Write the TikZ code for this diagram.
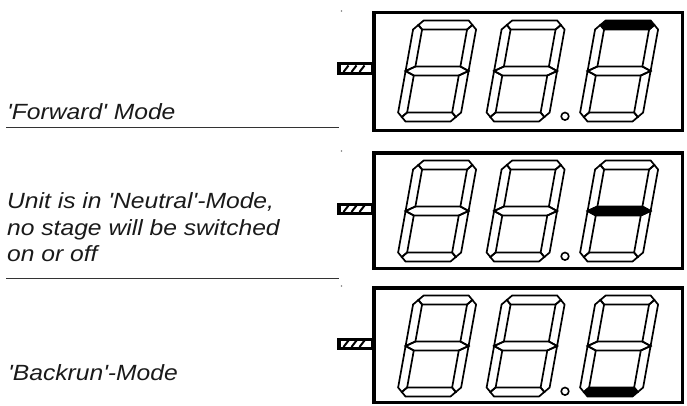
\documentclass[tikz,border=0pt]{standalone}
\usepackage{fontspec}
\newfontfamily\labelfont[FakeStretch=1.12]{Liberation Sans}
\definecolor{ink}{HTML}{1A1A1A}
\definecolor{rulegray}{HTML}{333333}

\tikzset{
  boxline/.style={line width=3.5pt, draw=black},
  seg/.style={line width=1.7pt, draw=black, line join=miter},
  lit top/.style={}, lit mid/.style={}, lit bot/.style={},
  label/.style={anchor=base west, inner sep=0pt, text=ink,
    font=\labelfont\itshape\fontsize{22}{26.7}\selectfont},
  sepline/.style={line width=1.2pt, draw=rulegray},
}

% one slanted seven-segment digit; #1,#2 = lower left corner, #3 = lit segment style
\newcommand\segdigit[3]{%
  \begin{scope}[shift={(#1,#2)}, xslant=0.18, #3]
    \draw[seg, lit top] (4.5,96.5) -- (9,101) -- (54,101) -- (58.5,96.5) -- (54,92) -- (9,92) -- cycle;
    \draw[seg, lit mid] (0,50.5) -- (9,55) -- (54,55) -- (63,50.5) -- (54,46) -- (9,46) -- cycle;
    \draw[seg, lit bot] (4.5,4.5) -- (9,9) -- (54,9) -- (58.5,4.5) -- (54,0) -- (9,0) -- cycle;
    \draw[seg] (0,50.5) -- (0,92) -- (4.5,96.5) -- (9,92) -- (9,55) -- cycle;
    \draw[seg] (63,50.5) -- (63,92) -- (58.5,96.5) -- (54,92) -- (54,55) -- cycle;
    \draw[seg] (0,50.5) -- (0,9) -- (4.5,4.5) -- (9,9) -- (9,46) -- cycle;
    \draw[seg] (63,50.5) -- (63,9) -- (58.5,4.5) -- (54,9) -- (54,46) -- cycle;
  \end{scope}}

% one display panel; #1 = top edge, #2 = bottom edge (from the top of the page), #3 = lit segment of the last digit
\newcommand\displaypanel[3]{%
  \pgfmathsetmacro\pT{405-#1}%
  \pgfmathsetmacro\pB{405-#2}%
  % connector stub
  \fill[black] (337,\pT-64) rectangle (372.5,\pT-51.5);
  \fill[white] (340.5,\pT-61) rectangle (370.5,\pT-54.5);
  \foreach \k in {0,1,2}
    \draw[line width=2pt] (343.5+8*\k,\pT-61) -- (348.5+8*\k,\pT-54.5);
  \fill[gray] (341.5,\pT) circle (0.8);
  % frame
  \draw[boxline] (373.75,\pT-1.75) rectangle (682.25,\pB+1.75);
  % digits and decimal point
  \segdigit{396.5}{\pT-110.5}{}
  \segdigit{485}{\pT-110.5}{}
  \segdigit{578.5}{\pT-110.5}{#3}
  \draw[line width=1.6pt] (565,\pT-105.3) circle (3.8);
}

\begin{document}
\begin{tikzpicture}[x=1pt, y=1pt]
  \useasboundingbox (0,0) rectangle (687,405);

  \displaypanel{11}{132}{lit top/.style={fill=black}}
  \displaypanel{151}{270}{lit mid/.style={fill=black}}
  \displaypanel{286}{404}{lit bot/.style={fill=black}}

  % mode descriptions
  \node[label] (forward) at (7,285.7) {'Forward' Mode};
  \node[label] (neutralA) at (7,196.7) {Unit is in 'Neutral'-Mode,};
  \node[label] (neutralB) at (7,170) {no stage will be switched};
  \node[label] (neutralC) at (7,143.3) {on or off};
  \node[label] (backrun) at (8,25) {'Backrun'-Mode};

  % separators between the modes
  \coordinate (sepAl) at (6,277.3);
  \coordinate (sepAr) at (339,277.3);
  \coordinate (sepBl) at (6,126.5);
  \coordinate (sepBr) at (339,126.5);
  \draw[sepline] (sepAl) -- (sepAr);
  \draw[sepline] (sepBl) -- (sepBr);
\end{tikzpicture}
\end{document}
